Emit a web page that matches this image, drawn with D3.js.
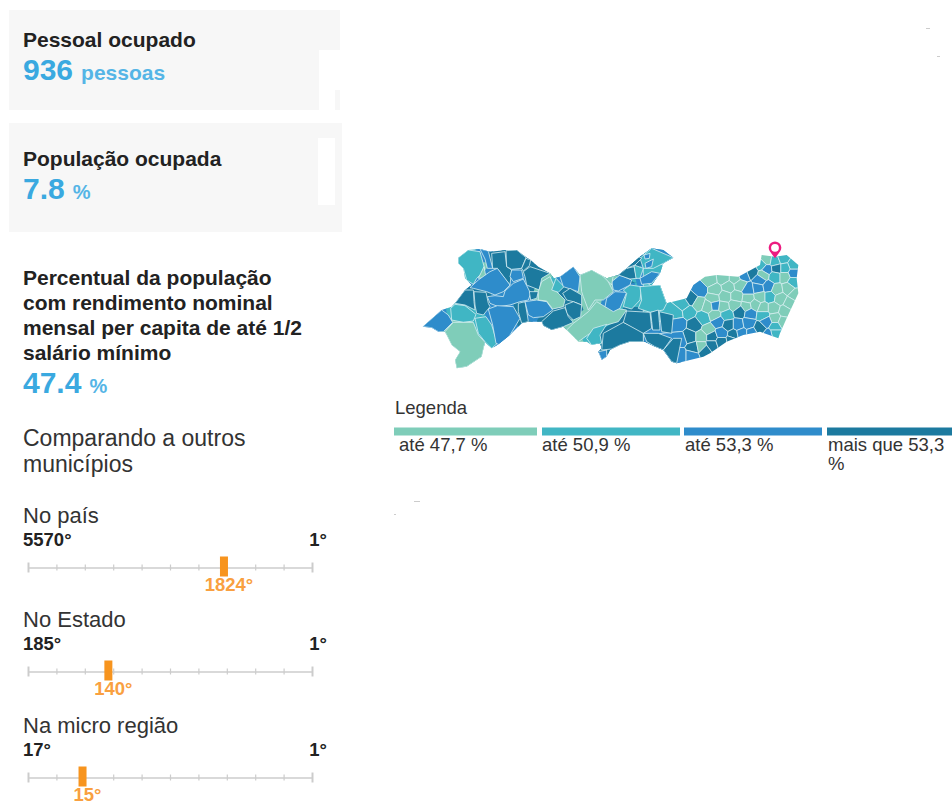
<!DOCTYPE html>
<meta charset="utf-8">
<style>
html, body { margin: 0; background: #fff; }
svg { display: block; font-family: "Liberation Sans", Arial, sans-serif; }
</style>
<body>
<script src="https://d3js.org/d3.v7.min.js"></script>
<script>

// headline figures
var statLabels = [["Pessoal ocupado"], ["População ocupada"],
  ["Percentual da população", "com rendimento nominal", "mensal per capita de até 1/2", "salário mínimo"]];
var statValues = ["936", "7.8", "47.4"];
var statUnits = ["pessoas", "%", "%"];

// ranking sliders
var rankTitles = ["No país", "No Estado", "Na micro região"];
var rankWorst = ["5570°", "185°", "17°"];
var rankBest = ["1°", "1°", "1°"];
var rankCurrent = ["1824°", "140°", "15°"];
var rankPosition = [69, 28.3, 19.2];   // percent along the slider

// legend
var legendLabels = [["até 47,7 %"], ["até 50,9 %"], ["até 53,3 %"], ["mais que 53,3", "%"]];
var classColors = ["#7fcdb9", "#41b6c4", "#2f8ccb", "#1c7a9f"];

// municipalities, west and centre of the state (map units)
var bigRings = [
  [[145,68],[175,45],[210,50],[225,105],[200,130],[190,148],[170,135],[160,100],[145,85]],
  [[210,42],[235,48],[248,100],[232,100],[225,72]],
  [[205,130],[222,95],[228,128]],
  [[245,55],[285,50],[290,95],[305,105],[300,150],[280,125],[262,100],[248,100]],
  [[288,47],[320,45],[348,68],[335,100],[305,103],[290,95]],
  [[348,70],[362,75],[358,92],[340,108],[335,100]],
  [[305,105],[335,105],[340,130],[310,140],[300,125]],
  [[340,110],[360,95],[420,115],[395,130],[388,165],[350,150],[345,125]],
  [[180,158],[205,135],[240,110],[262,100],[285,130],[300,150],[280,170],[255,180],[230,170],[190,160]],
  [[285,168],[310,145],[340,132],[350,152],[362,175],[355,195],[330,200],[300,210],[265,215],[240,205],[232,185],[255,182],[280,185]],
  [[135,205],[165,165],[190,165],[192,200],[195,225],[165,210]],
  [[192,170],[228,172],[235,205],[240,215],[220,240],[200,235],[195,210]],
  [[38,275],[95,225],[115,240],[128,262],[100,290],[85,290],[65,278]],
  [[122,220],[135,208],[165,212],[198,238],[190,258],[160,262],[125,255]],
  [[105,290],[130,262],[190,262],[205,300],[225,322],[215,365],[170,395],[140,400],[135,375],[150,350],[125,330]],
  [[195,250],[228,245],[245,270],[262,325],[245,340],[225,320],[205,295]],
  [[235,222],[262,212],[310,215],[330,250],[300,300],[270,330],[258,325],[248,270]],
  [[325,205],[345,200],[352,240],[355,260],[335,265],[325,230]],
  [[358,170],[385,170],[380,190],[362,195]],
  [[345,200],[380,195],[410,200],[428,225],[400,245],[370,248],[355,240]],
  [[385,170],[395,140],[420,125],[440,170],[465,195],[460,215],[428,222],[410,198],[385,195]],
  [[425,165],[438,130],[462,155],[445,172]],
  [[450,125],[490,95],[510,125],[505,170],[490,165],[460,155]],
  [[458,175],[480,160],[515,180],[515,210],[490,200],[470,195]],
  [[465,210],[490,200],[515,210],[512,245],[490,255],[470,235]],
  [[395,260],[430,228],[465,218],[475,245],[490,262],[460,275],[425,285],[400,272]],
  [[510,120],[545,105],[590,130],[610,170],[580,195],[555,195],[535,225],[520,185],[515,170]],
  [[470,285],[490,265],[510,250],[535,230],[560,200],[585,215],[650,225],[625,260],[590,270],[540,295],[505,320],[495,310]],
  [[585,215],[590,190],[615,170],[650,172],[630,220],[610,230]],
  [[640,165],[660,150],[695,155],[690,195],[665,222],[640,215],[650,175]],
  [[605,140],[630,120],[665,135],[660,150],[625,168],[610,165]],
  [[690,155],[750,150],[770,205],[760,225],[720,232],[685,220],[695,195]],
  [[625,120],[650,100],[672,95],[680,130],[660,132]],
  [[580,125],[610,120],[605,150],[590,135]],
  [[672,90],[700,100],[690,130],[678,130]],
  [[690,130],[725,110],[750,115],[725,145],[695,148]],
  [[690,70],[725,40],[790,68],[760,85],[730,100],[700,100]],
  [[702,60],[720,55],[718,70],[705,72]],
  [[705,85],[730,72],[725,95],[708,100]],
  [[650,100],[685,65],[695,70],[675,90]],
  [[530,310],[550,280],[590,268],[570,300],[575,325],[545,330]],
  [[565,350],[590,345],[590,365],[575,375]],
  [[575,345],[580,295],[640,262],[700,290],[700,320],[660,320],[630,330],[605,342]],
  [[640,262],[650,228],[720,232],[725,280],[700,295]],
  [[722,232],[745,225],[750,285],[728,285]],
  [[748,230],[790,240],[785,295],[755,290]],
  [[700,295],[745,295],[785,310],[760,345],[735,335],[710,320]],
  [[760,345],[790,310],[815,310],[800,385],[785,380]]
];
var bigClass = [1,2,0,3,3,3,2,3,2,2,3,3,2,1,0,1,2,3,3,2,0,1,2,3,3,3,0,0,2,1,2,1,3,0,1,2,1,2,2,3,1,2,3,3,3,3,3,3];

// small municipalities of the east, one seed per municipality (map units)
var eastSeeds = [
  [1070,75],[1095,80],[1120,70],[1150,90],[1055,90],[1070,103],[1100,100],[1125,100],[1150,115],[1060,120],
  [1095,125],[1125,125],[1150,140],[1025,110],[1000,120],[975,130],[940,130],[900,135],[1050,135],
  [870,165],[915,165],[955,155],[990,150],[1015,165],[1045,160],[1075,155],[1100,165],[1135,160],[1155,180],
  [910,190],[945,185],[980,185],[1015,190],[1050,185],[1080,185],[1110,190],[1140,205],
  [820,210],[845,193],[865,205],[895,215],[915,212],[940,215],[975,210],[1010,215],[1035,210],[1060,220],[1090,220],[1125,230],
  [800,235],[835,230],[880,250],[915,240],[950,240],[990,230],[1020,235],[1060,240],[1095,250],[1120,260],
  [805,265],[855,270],[895,285],[925,260],[955,270],[985,270],[1015,265],[1050,280],[1070,260],[1095,275],[1095,295],[1075,300],
  [840,305],[875,305],[905,305],[935,295],[970,300],[995,295],[1025,295],
  [810,315],[850,340],[875,335],[905,330],[935,320],[965,315],[845,360],[885,345],[810,360]
];
var eastClass = [
  0,1,1,1,1,2,3,1,2,0,
  1,0,1,3,2,0,0,0,2,
  2,0,0,0,2,2,2,0,0,0,
  0,0,0,0,0,1,0,0,
  1,3,0,0,2,0,0,0,0,0,0,0,
  1,1,1,0,1,3,2,1,0,0,
  2,3,0,2,3,2,2,3,2,1,1,2,
  3,0,3,2,3,2,2,
  2,3,0,3,3,3,2,3,2
];
var stateOutline = [
  [38,275],[95,225],[125,215],[135,205],[165,165],[185,150],[165,130],[160,100],[145,85],[145,68],[175,45],[210,42],
  [240,50],[290,45],[320,45],[350,68],[362,75],[385,95],[420,115],[432,130],[450,125],[490,95],[510,120],[545,105],
  [590,130],[625,120],[650,100],[690,65],[725,40],[760,45],[790,68],[760,85],[750,115],[725,150],[750,150],[770,205],
  [830,190],[850,150],[885,125],[920,120],[985,125],[1050,90],[1055,60],[1095,65],[1130,60],[1165,90],[1160,130],
  [1165,175],[1130,250],[1110,295],[1105,310],[1050,290],[1000,300],[950,320],[900,355],[880,365],[800,385],[785,380],
  [760,345],[735,335],[705,320],[660,320],[630,330],[600,345],[590,365],[575,375],[565,350],[575,340],[570,325],
  [545,330],[530,320],[505,320],[495,310],[470,285],[460,275],[425,285],[400,272],[395,260],[355,260],[335,265],
  [320,280],[300,300],[262,330],[245,340],[225,322],[215,365],[170,395],[140,400],[135,375],[150,350],[125,330],
  [105,290],[85,290],[65,278]
];
var pinAt = [1095, 70];

var svg = d3.select("body").append("svg").attr("width", 952).attr("height", 801);

// grey cards behind the first two figures
svg.append("rect").attr("x", 9).attr("y", 10).attr("width", 331).attr("height", 100).attr("fill", "#f7f7f7");
svg.append("rect").attr("x", 9).attr("y", 123).attr("width", 333).attr("height", 109).attr("fill", "#f7f7f7");
svg.append("rect").attr("x", 319).attr("y", 50).attr("width", 16).attr("height", 60).attr("fill", "#fff");
svg.append("rect").attr("x", 335).attr("y", 50).attr("width", 5).attr("height", 40).attr("fill", "#fff");
svg.append("rect").attr("x", 318).attr("y", 138).attr("width", 17).attr("height", 67).attr("fill", "#fff");

// stray specks in the screenshot
[[926, 28, 4], [937, 56, 3], [414, 501, 6], [394, 514, 2]].forEach(function(s) {
  svg.append("rect").attr("x", s[0]).attr("y", s[1]).attr("width", s[2]).attr("height", 1).attr("fill", "#ccc");
});

// stat blocks
var statTop = [47, 166, 285];
var statNumberY = [80, 199, 393];
statLabels.forEach(function(lines, i) {
  lines.forEach(function(line, k) {
    svg.append("text").attr("x", 23).attr("y", statTop[i] + k * 25)
      .attr("font-size", "21px").attr("font-weight", "bold").attr("fill", "#222").text(line);
  });
  var t = svg.append("text").attr("x", 23).attr("y", statNumberY[i])
    .attr("font-weight", "bold").attr("fill", "#3aa9e0");
  t.append("tspan").attr("font-size", "30px").text(statValues[i]);
  t.append("tspan").attr("font-size", i ? "20px" : "21px").attr("dx", 8).attr("fill", "#55b5e6").text(statUnits[i]);
});

["Comparando a outros", "municípios"].forEach(function(line, k) {
  svg.append("text").attr("x", 23).attr("y", 446 + k * 25.5)
    .attr("font-size", "23px").attr("fill", "#333").text(line);
});

// ranking sliders
var sliderX = d3.scaleLinear().domain([0, 100]).range([28, 312]);
var sliderTop = [523, 627, 733];

rankTitles.forEach(function(title, i) {
  var g = svg.append("g").attr("transform", "translate(0," + sliderTop[i] + ")");
  g.append("text").attr("x", 23).attr("font-size", "22px").attr("fill", "#333").text(title);
  g.append("text").attr("x", 23).attr("y", 23).attr("font-size", "18.5px").attr("font-weight", "bold").attr("fill", "#222").text(rankWorst[i]);
  g.append("text").attr("x", 327).attr("y", 23).attr("text-anchor", "end").attr("font-size", "18.5px").attr("font-weight", "bold").attr("fill", "#222").text(rankBest[i]);

  var axis = g.append("g").attr("transform", "translate(0,44.5)")
    .call(d3.axisBottom(sliderX).ticks(10).tickSize(3).tickSizeOuter(0).tickFormat(""));
  axis.select(".domain").attr("stroke", "#ccc").attr("stroke-width", 1.6);
  axis.selectAll(".tick line").attr("stroke", "#ccc").attr("stroke-width", 1.2).attr("y1", -3)
    .filter(function(d) { return d === 0 || d === 100; }).attr("y1", -5).attr("y2", 5).attr("stroke-width", 2);

  g.append("rect").attr("x", sliderX(rankPosition[i]) - 4).attr("y", 33.5).attr("width", 8).attr("height", 20).attr("fill", "#f7941e");
  g.append("text").attr("x", sliderX(rankPosition[i]) + 5).attr("y", 67.5).attr("text-anchor", "middle")
    .attr("font-size", "18.5px").attr("font-weight", "bold").attr("fill", "#f9a040").text(rankCurrent[i]);
});

// map
var projection = d3.geoIdentity().scale(1 / 3).translate([410, 235]);
function ringPath(ring) {
  return "M" + ring.map(function(p) { return projection(p).join(","); }).join("L") + "Z";
}
var defs = svg.append("defs");
defs.append("filter").attr("id", "soft").append("feGaussianBlur").attr("stdDeviation", 0.4);
defs.append("clipPath").attr("id", "state-clip").append("path").attr("d", ringPath(stateOutline));

var map = svg.append("g").attr("filter", "url(#soft)");
var inner = map.append("g").attr("clip-path", "url(#state-clip)");
var corners = [projection([700, 0]), projection([1200, 420])];
var voronoi = d3.Delaunay.from(eastSeeds.map(projection))
  .voronoi([corners[0][0], corners[0][1], corners[1][0], corners[1][1]]);

// fat own-colour strokes close the gaps between the hand-read rings
inner.append("g").selectAll("path")
  .data(bigRings)
  .join("path")
  .attr("d", ringPath)
  .attr("fill", function(d, i) { return classColors[bigClass[i]]; })
  .attr("stroke", function(d, i) { return classColors[bigClass[i]]; })
  .attr("stroke-width", 9).attr("stroke-linejoin", "round");

inner.append("g").selectAll("path")
  .data(eastSeeds)
  .join("path")
  .attr("d", function(d, i) { return voronoi.renderCell(i); })
  .attr("fill", function(d, i) { return classColors[eastClass[i]]; })
  .attr("stroke", "#d8eff2").attr("stroke-width", 0.7);

inner.append("g").selectAll("path")
  .data(bigRings)
  .join("path")
  .attr("d", ringPath)
  .attr("fill", function(d, i) { return classColors[bigClass[i]]; })
  .attr("stroke", "#d8eff2").attr("stroke-width", 0.8).attr("stroke-linejoin", "round");

// pin on the municipality
var pin = projection(pinAt);
var pinG = svg.append("g").attr("transform", "translate(" + pin[0] + "," + pin[1] + ")");
pinG.append("path").attr("d", "M0,0 L-5.2,-7 A6.3,6.3 0 1 1 5.2,-7 Z").attr("fill", "#ec1c80");
pinG.append("circle").attr("cy", -10.5).attr("r", 3.9).attr("fill", "#fff");

// legend
var legendX = d3.scaleOrdinal().domain(d3.range(4)).range([394, 542, 684, 827]);
var legendEnd = d3.scaleOrdinal().domain(d3.range(4)).range([537, 680, 822, 952]);
var legendPad = d3.scaleOrdinal().domain(d3.range(4)).range([5, 0, 1, 1]);

svg.append("text").attr("x", 395).attr("y", 414).attr("font-size", "18.5px").attr("fill", "#333").text("Legenda");
legendLabels.forEach(function(lines, i) {
  svg.append("rect").attr("x", legendX(i)).attr("y", 427.5).attr("width", legendEnd(i) - legendX(i)).attr("height", 8).attr("fill", classColors[i]);
  lines.forEach(function(line, k) {
    svg.append("text").attr("x", legendX(i) + legendPad(i)).attr("y", 451 + k * 18.5)
      .attr("font-size", "18.5px").attr("fill", "#333").text(line);
  });
});

</script>
</body>
